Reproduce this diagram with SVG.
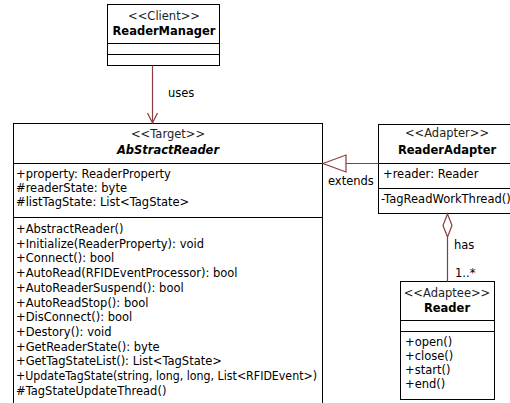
<svg xmlns="http://www.w3.org/2000/svg" width="510" height="403" viewBox="0 0 510 403">
<style>
.box{fill:#fff;stroke:#000;stroke-width:1}
.t{font-family:"DejaVu Sans",sans-serif;font-size:11.5px;fill:#000}
.c{text-anchor:middle}
.b{font-weight:bold}
.st{fill:#222}
.con{stroke:#8b3d3d;stroke-width:1.2;fill:none}
.cl{font-family:"DejaVu Sans",sans-serif;font-size:11.5px;fill:#000}
</style>
<rect width="510" height="403" fill="#fff"/>
<g id="ReaderManager">
<rect class="box" x="107.5" y="4.5" width="112" height="61"/>
<line class="box" x1="107.5" y1="43.5" x2="219.5" y2="43.5"/>
<line class="box" x1="107.5" y1="54.5" x2="219.5" y2="54.5"/>
<text class="t c st" x="164" y="20">&lt;&lt;Client&gt;&gt;</text>
<text class="t c b" x="164" y="35">ReaderManager</text>
</g>
<g id="AbStractReader">
<rect class="box" x="13.5" y="123.5" width="309" height="285"/>
<line class="box" x1="13.5" y1="163.5" x2="322.5" y2="163.5"/>
<line class="box" x1="13.5" y1="217.5" x2="322.5" y2="217.5"/>
<text class="t c st" x="168" y="138">&lt;&lt;Target&gt;&gt;</text>
<text class="t c b" x="168" y="154" font-style="italic">AbStractReader</text>
<text class="t" x="16" y="178">+property: ReaderProperty</text>
<text class="t" x="16" y="192">#readerState: byte</text>
<text class="t" x="16" y="206">#listTagState: List&lt;TagState&gt;</text>
<text class="t" x="16" y="233">+AbstractReader()</text>
<text class="t" x="16" y="247.7">+Initialize(ReaderProperty): void</text>
<text class="t" x="16" y="262.4">+Connect(): bool</text>
<text class="t" x="16" y="277.1">+AutoRead(RFIDEventProcessor): bool</text>
<text class="t" x="16" y="291.8">+AutoReaderSuspend(): bool</text>
<text class="t" x="16" y="306.5">+AutoReadStop(): bool</text>
<text class="t" x="16" y="321.2">+DisConnect(): bool</text>
<text class="t" x="16" y="335.9">+Destory(): void</text>
<text class="t" x="16" y="350.6">+GetReaderState(): byte</text>
<text class="t" x="16" y="365.3">+GetTagStateList(): List&lt;TagState&gt;</text>
<text class="t" x="16" y="380" textLength="301" lengthAdjust="spacingAndGlyphs">+UpdateTagState(string, long, long, List&lt;RFIDEvent&gt;)</text>
<text class="t" x="16" y="394.7">#TagStateUpdateThread()</text>
</g>
<g id="ReaderAdapter">
<rect class="box" x="378.5" y="124.5" width="140" height="89"/>
<line class="box" x1="378.5" y1="163.5" x2="518.5" y2="163.5"/>
<line class="box" x1="378.5" y1="188.5" x2="518.5" y2="188.5"/>
<text class="t c st" x="447" y="137">&lt;&lt;Adapter&gt;&gt;</text>
<text class="t c b" x="447" y="154">ReaderAdapter</text>
<text class="t" x="383" y="178">+reader: Reader</text>
<text class="t" x="381" y="203">-TagReadWorkThread()</text>
</g>
<g id="Reader">
<rect class="box" x="400.5" y="281.5" width="94" height="118"/>
<line class="box" x1="400.5" y1="320.5" x2="494.5" y2="320.5"/>
<line class="box" x1="400.5" y1="331.5" x2="494.5" y2="331.5"/>
<text class="t c st" x="447" y="297">&lt;&lt;Adaptee&gt;&gt;</text>
<text class="t c b" x="447" y="312">Reader</text>
<text class="t" x="405" y="346">+open()</text>
<text class="t" x="405" y="360">+close()</text>
<text class="t" x="405" y="374">+start()</text>
<text class="t" x="405" y="388">+end()</text>
</g>
<g id="connectors">
<line class="con" x1="152.5" y1="65.5" x2="152.5" y2="123"/>
<polyline class="con" points="147.5,113 152.5,123 157.5,113"/>
<text class="cl" x="168" y="97">uses</text>
<line class="con" x1="346" y1="163.5" x2="378.5" y2="163.5"/>
<polygon class="con" fill="#fff" points="323,163.5 346,155 346,172"/>
<text class="cl" x="328" y="185">extends</text>
<polygon class="con" fill="#fff" points="447.5,214 452,225.5 447.5,237 443,225.5"/>
<line class="con" x1="447.5" y1="237" x2="447.5" y2="281.5"/>
<text class="cl" x="454" y="249">has</text>
<text class="cl" x="455" y="277">1..*</text>
</g>
</svg>
